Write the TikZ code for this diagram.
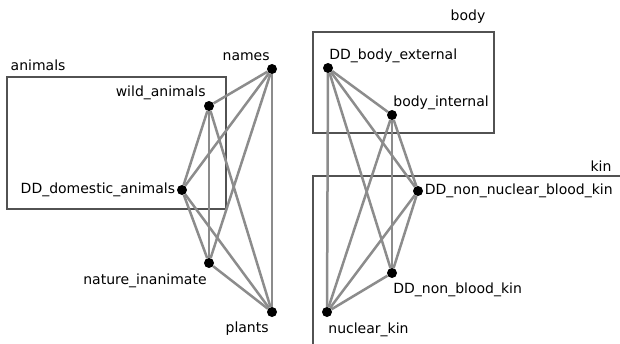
\documentclass[tikz,border=0pt]{standalone}
\usepackage{fontspec}
\setmainfont{DejaVu Sans}
\usetikzlibrary{positioning}

\begin{document}
\begin{tikzpicture}[
    x=1pt, y=1pt,
    dot/.style={circle, fill=black, inner sep=0pt, minimum size=10pt},
    lbl/.style={font=\fontsize{14}{16}\selectfont, inner sep=1.5pt},
    group/.style={draw=black!68, line width=1.7pt},
    edge/.style={draw=black!45, line width=2.5pt}
]
    \useasboundingbox (0,0) rectangle (620,343);
    \clip (0,0) rectangle (620,343);

    % groups
    \draw[group] (7,134) rectangle (226,266);
    \node[lbl, anchor=west] (animals) at (9,278) {animals};
    \draw[group] (313,210) rectangle (494,311);
    \node[lbl] (body) at (468,326) {body};
    \draw[group] (313,-20) rectangle (640,167);
    \node[lbl] (kin) at (601,177) {kin};

    % left cluster
    \node[dot, label={[lbl, xshift=3pt, yshift=3pt]above left:names}] (names) at (272,274) {};
    \node[dot, label={[lbl, xshift=2pt, yshift=1pt]above left:wild\_animals}] (wild) at (209,237) {};
    \node[dot, label={[lbl]left:DD\_domestic\_animals}] (domestic) at (182,153) {};
    \node[dot, label={[lbl, xshift=3pt, yshift=-5pt]below left:nature\_inanimate}] (nature) at (209,80) {};
    \node[dot, label={[lbl, xshift=2pt, yshift=-4pt]below left:plants}] (plants) at (272,31) {};

    % right cluster
    \node[dot, label={[lbl, anchor=south west, xshift=-4pt]above right:DD\_body\_external}] (external) at (328,275) {};
    \node[dot, label={[lbl, anchor=south west, xshift=-4pt]above right:body\_internal}] (internal) at (392,228) {};
    \node[dot, label={[lbl]right:DD\_non\_nuclear\_blood\_kin}] (nonnuclear) at (418,152) {};
    \node[dot, label={[lbl, anchor=north west, xshift=-4pt, yshift=-4pt]below right:DD\_non\_blood\_kin}] (nonblood) at (392,70) {};
    \node[dot, label={[lbl, anchor=north west, xshift=-4pt, yshift=-5pt]below right:nuclear\_kin}] (nuclear) at (327,31) {};

    \foreach \a/\b in {names/wild, names/domestic, names/nature, names/plants,
                       wild/domestic, wild/nature, wild/plants,
                       domestic/nature, domestic/plants, nature/plants,
                       external/internal, external/nonnuclear, external/nonblood, external/nuclear,
                       internal/nonnuclear, internal/nonblood, internal/nuclear,
                       nonnuclear/nonblood, nonnuclear/nuclear, nonblood/nuclear}
        \draw[edge] (\a) -- (\b);
\end{tikzpicture}
\end{document}
